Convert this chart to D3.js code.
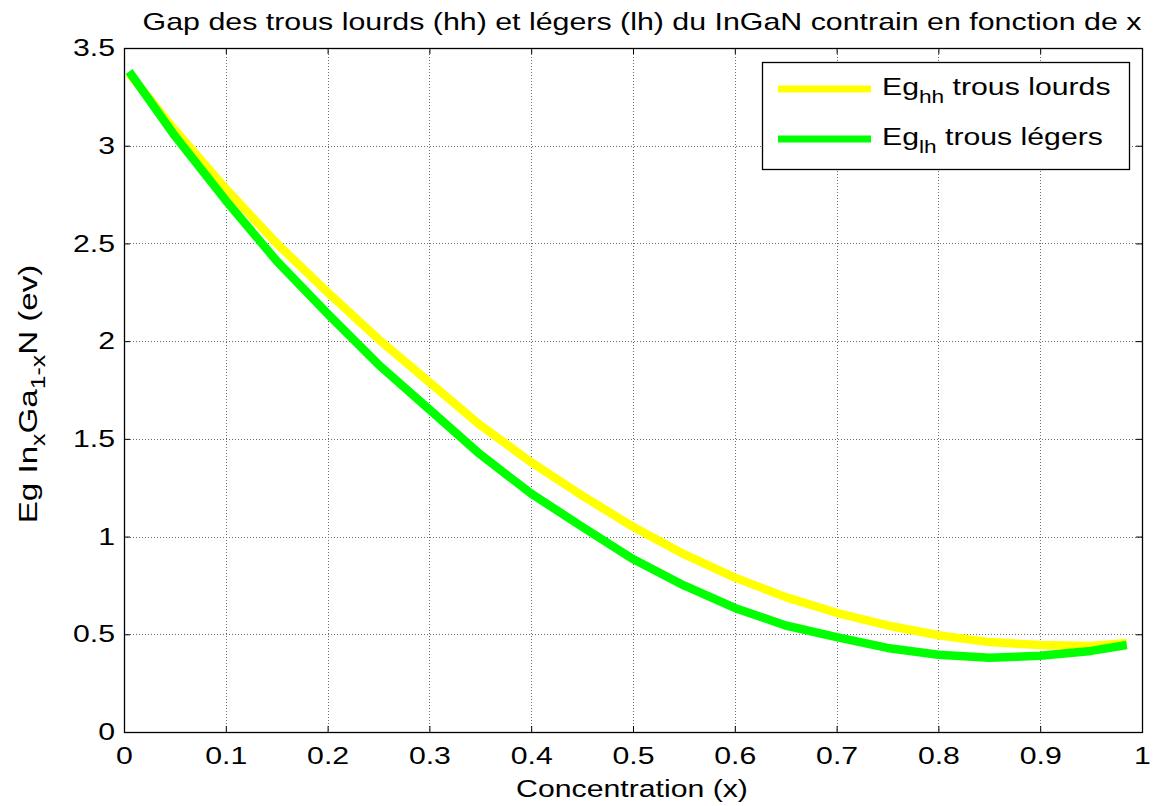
<!DOCTYPE html>
<html>
<head>
<meta charset="utf-8">
<script src="https://cdn.jsdelivr.net/npm/d3@7"></script>
<style>
  html, body { margin: 0; padding: 0; background: #fff; }
  svg { display: block; font-family: "Liberation Sans", Arial, sans-serif; }
</style>
</head>
<body>
<svg id="chart" width="1156" height="806"></svg>
<script>
// Indium fraction x
const xValues = [0.005, 0.05, 0.1, 0.15, 0.2, 0.25, 0.3, 0.35, 0.4, 0.45, 0.5,
                 0.55, 0.6, 0.65, 0.7, 0.75, 0.8, 0.85, 0.9, 0.95, 0.985];
// Strained InGaN gap, heavy holes (eV)
const egHH = [3.37, 3.08, 2.78, 2.50, 2.25, 2.01, 1.79, 1.57, 1.38, 1.21, 1.05,
              0.91, 0.79, 0.69, 0.61, 0.545, 0.495, 0.46, 0.445, 0.44, 0.455];
// Strained InGaN gap, light holes (eV)
const egLH = [3.38, 3.05, 2.72, 2.41, 2.14, 1.88, 1.65, 1.42, 1.22, 1.05, 0.885,
              0.75, 0.635, 0.545, 0.485, 0.43, 0.395, 0.38, 0.39, 0.415, 0.445];

const xTicks = [0, 0.1, 0.2, 0.3, 0.4, 0.5, 0.6, 0.7, 0.8, 0.9, 1];
const yTicks = [0, 0.5, 1, 1.5, 2, 2.5, 3, 3.5];
const seriesNames = ["trous lourds", "trous légers"];
const seriesSubs = ["hh", "lh"];
const seriesColors = ["#ffff00", "#00ff00"];

const svg = d3.select("#chart");
const plotL = 124, plotR = 1142, plotT = 48, plotB = 732;
const FS = 24;        // base font size
const SX = 1.26;      // horizontal glyph stretch of the figure text

const x = d3.scaleLinear().domain([0, 1]).range([plotL, plotR]);
const y = d3.scaleLinear().domain([0, 3.5]).range([plotB, plotT]);

// Grid
const grid = svg.append("g").attr("stroke", "#6e6e6e").attr("stroke-width", 1)
  .attr("stroke-dasharray", "1,2");
grid.selectAll("line.v").data(xTicks.filter(d => d > 0 && d < 1)).join("line")
  .attr("class", "v")
  .attr("x1", d => Math.round(x(d)) + 0.5).attr("x2", d => Math.round(x(d)) + 0.5)
  .attr("y1", plotT).attr("y2", plotB);
grid.selectAll("line.h").data(yTicks.filter(d => d > 0 && d < 3.5)).join("line")
  .attr("class", "h")
  .attr("y1", d => Math.round(y(d)) + 0.5).attr("y2", d => Math.round(y(d)) + 0.5)
  .attr("x1", plotL).attr("x2", plotR);

// Axes with inward ticks
const fmt = d => String(d);
function styleAxis(g) {
  g.select(".domain").remove();
  g.attr("font-size", FS).attr("font-family", "Liberation Sans, Arial, sans-serif");
  g.selectAll(".tick line").attr("stroke", "#000");
  g.selectAll(".tick text").attr("fill", "#000");
}
svg.append("g").attr("transform", `translate(0,${plotB})`)
  .call(d3.axisBottom(x).tickValues(xTicks).tickFormat(fmt).tickSizeInner(-6).tickPadding(15))
  .call(styleAxis)
  .selectAll(".tick text").attr("transform", `scale(${SX},1)`);
svg.append("g").attr("transform", `translate(0,${plotT})`)
  .call(d3.axisTop(x).tickValues(xTicks).tickFormat("").tickSizeInner(-6))
  .call(styleAxis);
svg.append("g").attr("transform", `translate(${plotL},0)`)
  .call(d3.axisLeft(y).tickValues(yTicks).tickFormat(fmt).tickSizeInner(-6).tickPadding(9))
  .call(styleAxis)
  .selectAll(".tick text").attr("x", -9 / SX).attr("transform", `scale(${SX},1)`);
svg.append("g").attr("transform", `translate(${plotR},0)`)
  .call(d3.axisRight(y).tickValues(yTicks).tickFormat("").tickSizeInner(-6))
  .call(styleAxis);

// Box
svg.append("rect").attr("x", plotL + 0.5).attr("y", plotT + 0.5)
  .attr("width", plotR - plotL).attr("height", plotB - plotT)
  .attr("fill", "none").attr("stroke", "#000").attr("stroke-width", 1.3);

// Curves
const line = d3.line().x((d, i) => x(xValues[i])).y(d => y(d));
[egHH, egLH].forEach((vals, k) => {
  svg.append("path").datum(vals).attr("d", line)
    .attr("fill", "none").attr("stroke", seriesColors[k]).attr("stroke-width", 8.5)
    .attr("stroke-linejoin", "round").attr("stroke-linecap", "butt");
});

// Horizontal text, stretched like the rest of the figure text
function hText(cx, cy, str, sx) {
  return svg.append("text")
    .attr("transform", `translate(${cx},${cy}) scale(${sx},1)`)
    .attr("text-anchor", "middle").attr("font-size", FS).text(str);
}
hText(642, 30, "Gap des trous lourds (hh) et légers (lh) du InGaN contrain en fonction de x", 1.265);
hText(632, 797, "Concentration (x)", SX);

// Y axis label with subscripts
const yl = svg.append("text")
  .attr("transform", `translate(37,394) rotate(-90) scale(1.38,1.08)`)
  .attr("text-anchor", "middle").attr("font-size", FS);
yl.append("tspan").text("Eg In");
yl.append("tspan").attr("font-size", 18).attr("dy", 7).text("x");
yl.append("tspan").attr("dy", -7).text("Ga");
yl.append("tspan").attr("font-size", 18).attr("dy", 7).text("1-x");
yl.append("tspan").attr("dy", -7).text("N (ev)");

// Legend
const lg = svg.append("g");
lg.append("rect").attr("x", 762.5).attr("y", 62.5).attr("width", 367).attr("height", 107)
  .attr("fill", "#fff").attr("stroke", "#000").attr("stroke-width", 1.3);
[0, 1].forEach(k => {
  const ly = 89 + k * 50;
  lg.append("line").attr("x1", 778).attr("x2", 871).attr("y1", ly).attr("y2", ly)
    .attr("stroke", seriesColors[k]).attr("stroke-width", 7);
  const t = lg.append("text")
    .attr("transform", `translate(882,${ly + 6}) scale(${SX},1)`)
    .attr("font-size", FS);
  t.append("tspan").text("Eg");
  t.append("tspan").attr("font-size", 18).attr("dy", 8).text(seriesSubs[k]);
  t.append("tspan").attr("dy", -8).text(" " + seriesNames[k]);
});
</script>
</body>
</html>
